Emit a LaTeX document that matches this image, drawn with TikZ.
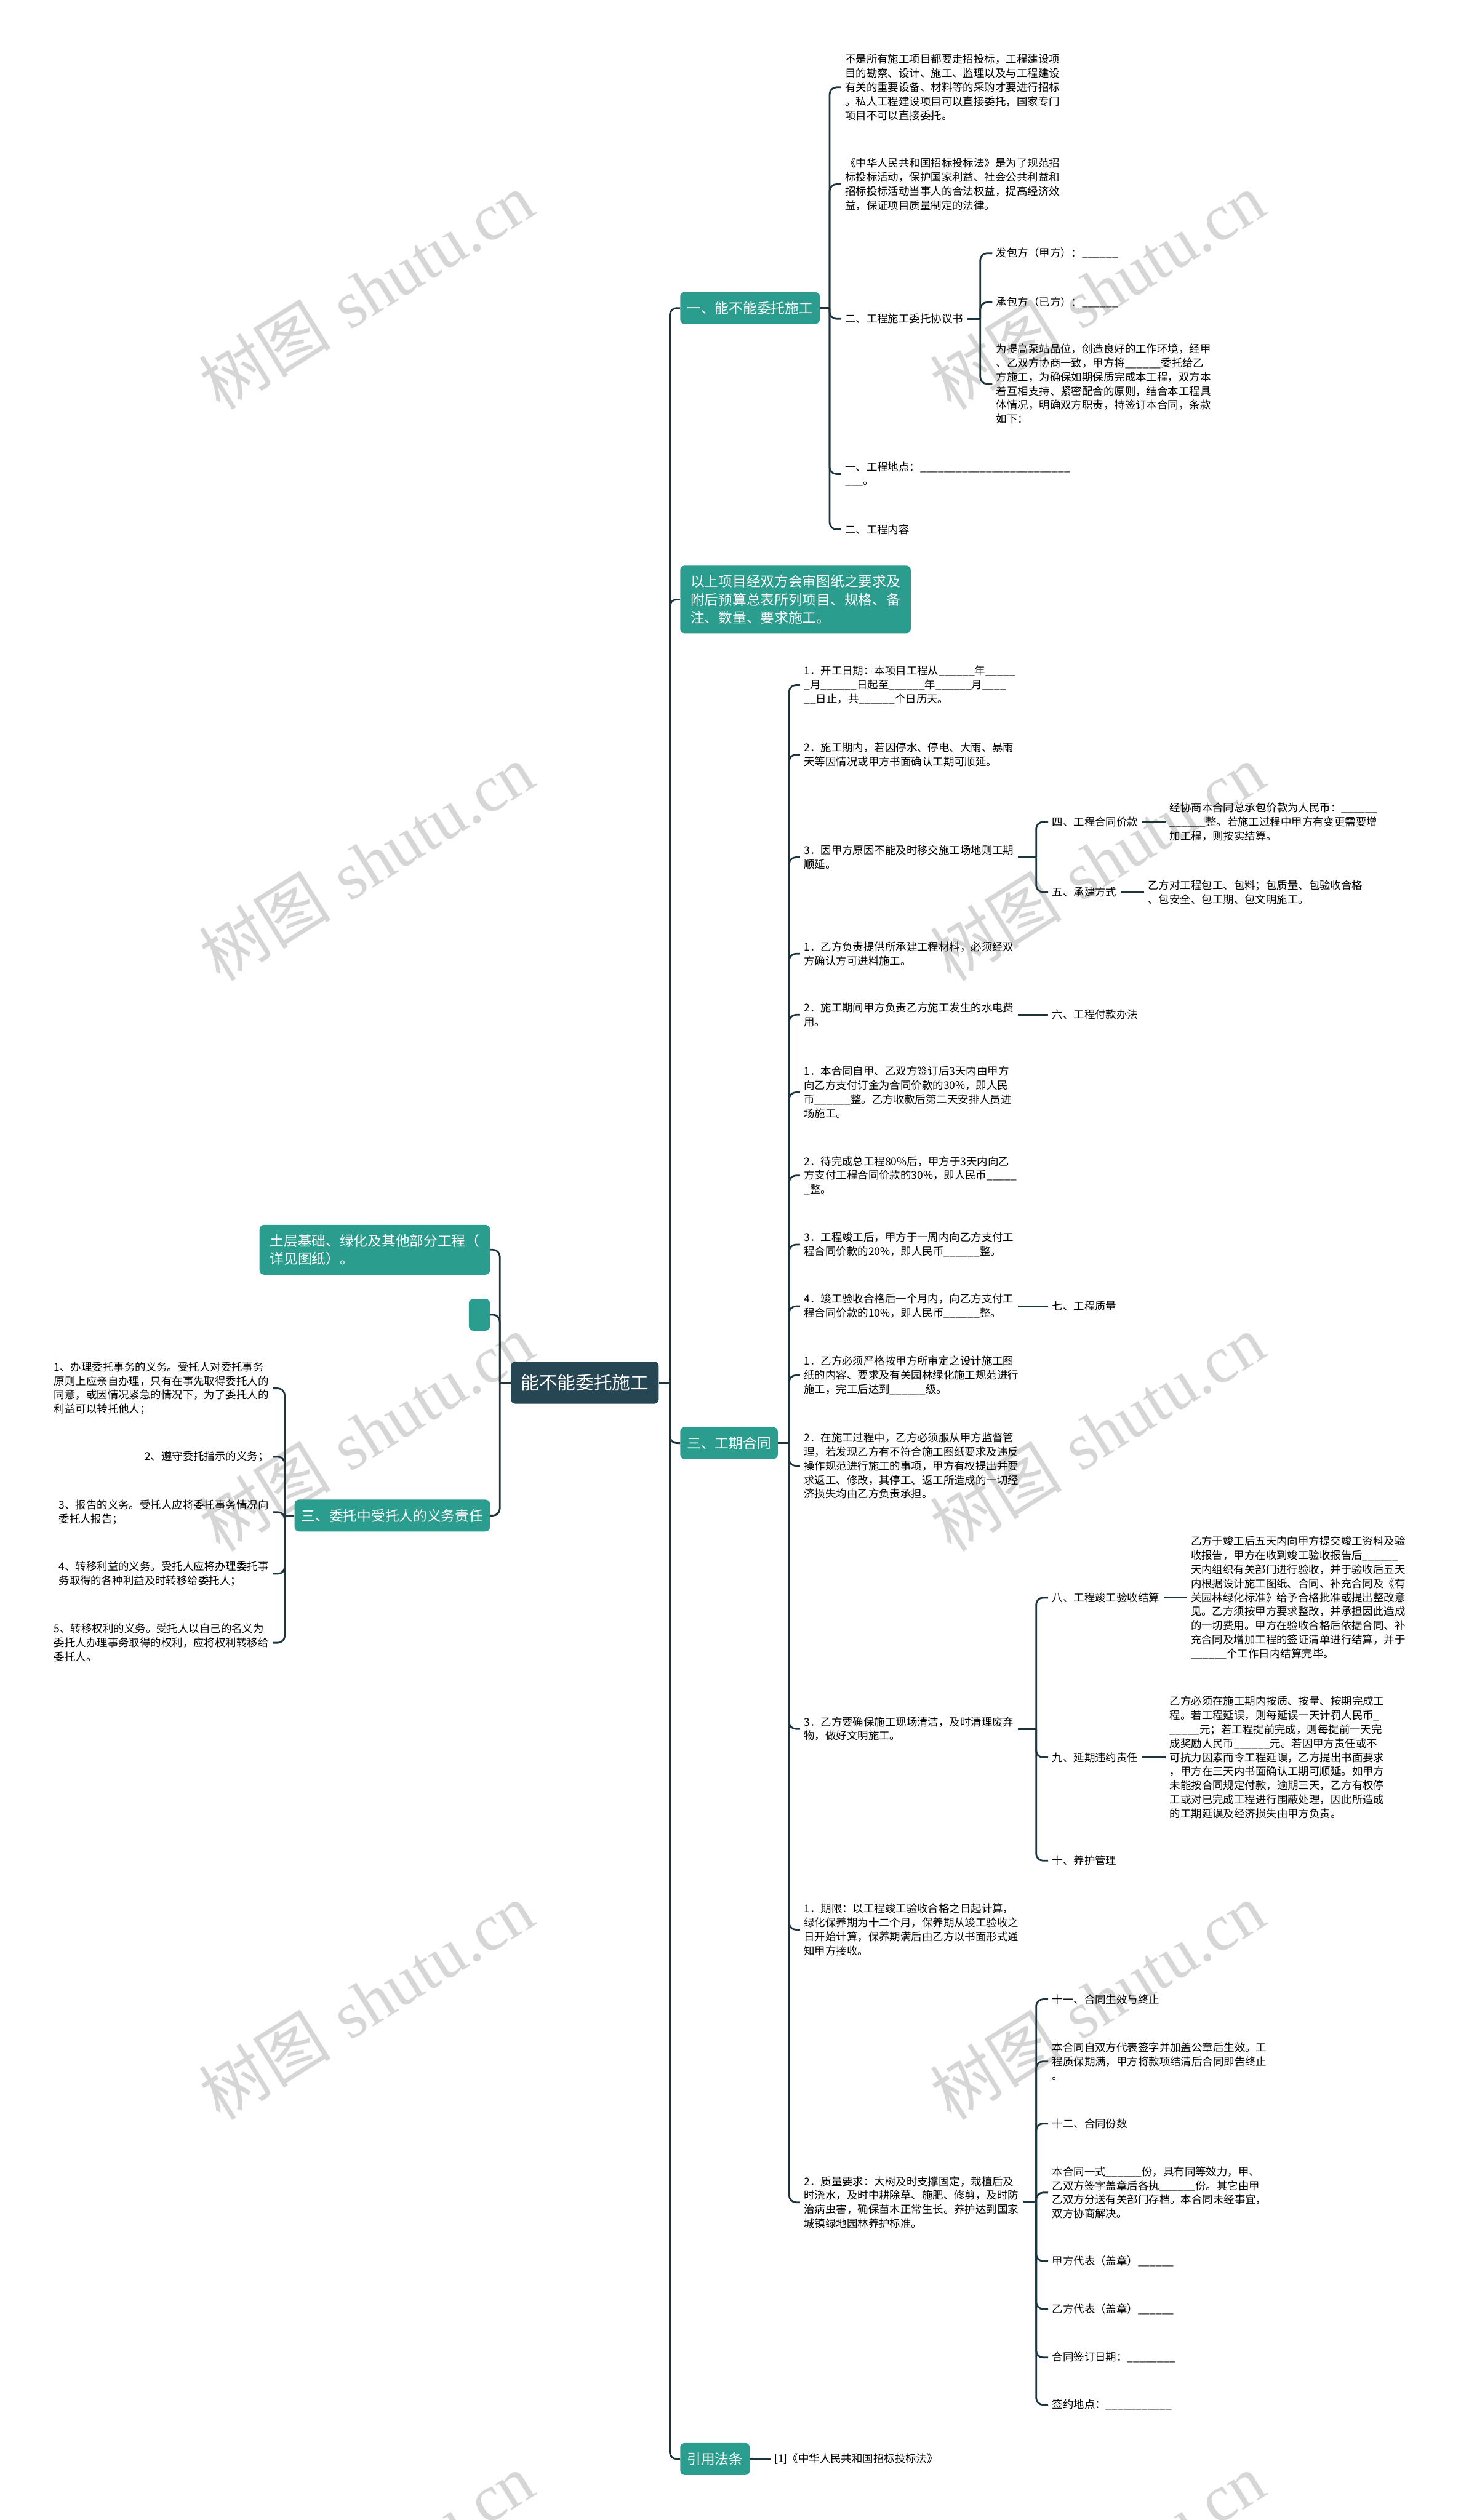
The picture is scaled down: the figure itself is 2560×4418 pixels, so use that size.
\documentclass[tikz,border=0pt]{standalone}
\usepackage{fontspec}
\newfontfamily\cjk{Noto Sans CJK SC}
\newfontfamily\wmfont{Liberation Serif}
\usetikzlibrary{calc}
\definecolor{rootc}{RGB}{38,70,83}
\definecolor{boxc}{RGB}{42,157,143}
\definecolor{linec}{RGB}{28,52,62}
\definecolor{wmc}{RGB}{214,214,214}
\ExplSyntaxOn
\newcommand{\bl}[1]{\prg_replicate:nn{#1}{\_}}
\ExplSyntaxOff
\tikzset{
  mainnode/.style={fill=rootc, text=white, rounded corners=8pt, font=\cjk\fontsize{32}{38}\selectfont,
    minimum height=74pt, minimum width=259pt, inner xsep=15pt},
  greenbox/.style={fill=boxc, text=white, rounded corners=8pt, font=\cjk\fontsize{24.5}{32}\selectfont,
    minimum height=56pt, inner xsep=12pt, inner ysep=16pt, align=left},
  txt/.style={font=\cjk\fontsize{18.8}{24.6}\selectfont, align=left, inner xsep=7pt, inner ysep=2pt, anchor=west},
  txtl/.style={txt, anchor=east},
  link/.style={draw=linec, line width=3pt, rounded corners=12pt},
  wmark/.style={text=wmc, rotate=32, font=\fontsize{116}{116}\selectfont}
}
\begin{document}
\begin{tikzpicture}[x=1pt,y=-1pt]
		%%%%% START %%%%%
		\useasboundingbox[fill=white] (0,0) rectangle (2560,4418);
		
		\foreach \wx in {642,1923}
		  \foreach \wy in {510,1512,2512,3508,4508}
		    \node[wmark] at (\wx,\wy) {{\cjk 树图} {\wmfont shutu.cn}};
		
		\node[mainnode] (root) at (1025,2424) {能不能委托施工};
		\coordinate (rR) at (1174,2424);
		\coordinate (rL) at (876,2424);
		\draw[link] (root.east) -- (rR);
		\draw[link] (root.west) -- (rL);
		
		%%%%% RIGHT %%%%%
		\node[greenbox,anchor=west] (b1) at (1192,540) {一、能不能委托施工};
		\node[greenbox,anchor=west,minimum width=404pt] (b2) at (1192,1051) {以上项目经双方会审图纸之要求及\\附后预算总表所列项目、规格、备\\注、数量、要求施工。};
		\node[greenbox,anchor=west] (b3) at (1192,2530) {三、工期合同};
		\node[greenbox,anchor=west] (b4) at (1192,4311) {引用法条};
		\foreach \n in {b1,b2,b3,b4} \draw[link] (rR) |- (\n.west);
		
		\coordinate (b1J) at (1454,540);
		\draw[link] (b1.east) -- (b1J);
		\node[txt] (e1) at (1474,153) {不是所有施工项目都要走招投标，工程建设项\\目的勘察、设计、施工、监理以及与工程建设\\有关的重要设备、材料等的采购才要进行招标\\。私人工程建设项目可以直接委托，国家专门\\项目不可以直接委托。};
		\node[txt] (e2) at (1474,323) {《中华人民共和国招标投标法》是为了规范招\\标投标活动，保护国家利益、社会公共利益和\\招标投标活动当事人的合法权益，提高经济效\\益，保证项目质量制定的法律。};
		\node[txt] (e3) at (1474,559) {二、工程施工委托协议书};
		\node[txt] (e4) at (1474,831) {一、工程地点：\bl{25}\\\bl{3}。};
		\node[txt] (e5) at (1474,928) {二、工程内容};
		\foreach \n in {e1,e2,e3,e4,e5} \draw[link] (b1J) |- (\n.west);
		
		\coordinate (e3J) at (1718,559);
		\draw[link] (e3.east) -- (e3J);
		\node[txt] (f1) at (1739,444) {发包方（甲方）：\bl{6}};
		\node[txt] (f2) at (1739,530) {承包方（已方）：\bl{6}};
		\node[txt] (f3) at (1739,673) {为提高泵站品位，创造良好的工作环境，经甲\\、乙双方协商一致，甲方将\bl{6}委托给乙\\方施工，为确保如期保质完成本工程，双方本\\着互相支持、紧密配合的原则，结合本工程具\\体情况，明确双方职责，特签订本合同，条款\\如下：};
		\foreach \n in {f1,f2,f3} \draw[link] (e3J) |- (\n.west);
		
		\coordinate (b3J) at (1383,2530);
		\draw[link] (b3.east) -- (b3J);
		\node[txt] (g1) at (1402,1201) {1．开工日期：本项目工程从\bl{6}年\bl{5}\\\bl{1}月\bl{6}日起至\bl{6}年\bl{6}月\bl{4}\\\bl{2}日止，共\bl{6}个日历天。};
		\node[txt] (g2) at (1402,1323) {2．施工期内，若因停水、停电、大雨、暴雨\\天等因情况或甲方书面确认工期可顺延。};
		\node[txt] (g3) at (1402,1503) {3．因甲方原因不能及时移交施工场地则工期\\顺延。};
		\node[txt] (g4) at (1402,1672) {1．乙方负责提供所承建工程材料，必须经双\\方确认方可进料施工。};
		\node[txt] (g5) at (1402,1779) {2．施工期间甲方负责乙方施工发生的水电费\\用。};
		\node[txt] (g6) at (1402,1915) {1．本合同自甲、乙双方签订后3天内由甲方\\向乙方支付订金为合同价款的30\%，即人民\\币\bl{6}整。乙方收款后第二天安排人员进\\场施工。};
		\node[txt] (g7) at (1402,2061) {2．待完成总工程80\%后，甲方于3天内向乙\\方支付工程合同价款的30\%，即人民币\bl{5}\\\bl{1}整。};
		\node[txt] (g8) at (1402,2182) {3．工程竣工后，甲方于一周内向乙方支付工\\程合同价款的20\%，即人民币\bl{6}整。};
		\node[txt] (g9) at (1402,2290) {4．竣工验收合格后一个月内，向乙方支付工\\程合同价款的10\%，即人民币\bl{6}整。};
		\node[txt] (g10) at (1402,2411) {1．乙方必须严格按甲方所审定之设计施工图\\纸的内容、要求及有关园林绿化施工规范进行\\施工，完工后达到\bl{6}级。};
		\node[txt] (g11) at (1402,2570) {2．在施工过程中，乙方必须服从甲方监督管\\理，若发现乙方有不符合施工图纸要求及违反\\操作规范进行施工的事项，甲方有权提出并要\\求返工、修改，其停工、返工所造成的一切经\\济损失均由乙方负责承担。};
		\node[txt] (g12) at (1402,3031) {3．乙方要确保施工现场清洁，及时清理废弃\\物，做好文明施工。};
		\node[txt] (g13) at (1402,3383) {1．期限：以工程竣工验收合格之日起计算，\\绿化保养期为十二个月，保养期从竣工验收之\\日开始计算，保养期满后由乙方以书面形式通\\知甲方接收。};
		\node[txt] (g14) at (1402,3861) {2．质量要求：大树及时支撑固定，栽植后及\\时浇水，及时中耕除草、施肥、修剪，及时防\\治病虫害，确保苗木正常生长。养护达到国家\\城镇绿地园林养护标准。};
		\foreach \n in {g1,g2,g3,g4,g5,g6,g7,g8,g9,g10,g11,g12,g13,g14} \draw[link] (b3J) |- (\n.west);
		
		\coordinate (g3J) at (1816,1503);
		\draw[link] (g3.east) -- (g3J);
		\node[txt] (h1) at (1837,1441) {四、工程合同价款};
		\node[txt] (h2) at (1837,1564) {五、承建方式};
		\foreach \n in {h1,h2} \draw[link] (g3J) |- (\n.west);
		\node[txt] (h1a) at (2043,1441) {经协商本合同总承包价款为人民币：\bl{6}\\\bl{6}整。若施工过程中甲方有变更需要增\\加工程，则按实结算。};
		\node[txt] (h2a) at (2005,1564) {乙方对工程包工、包料；包质量、包验收合格\\、包安全、包工期、包文明施工。};
		\draw[link] (h1.east) -- (h1a.west);
		\draw[link] (h2.east) -- (h2a.west);
		
		\node[txt] (h3) at (1837,1779) {六、工程付款办法};
		\draw[link] (g5.east) -- (h3.west);
		\node[txt] (h4) at (1837,2290) {七、工程质量};
		\draw[link] (g9.east) -- (h4.west);
		
		\coordinate (g12J) at (1816,3031);
		\draw[link] (g12.east) -- (g12J);
		\node[txt] (k1) at (1837,2801) {八、工程竣工验收结算};
		\node[txt] (k2) at (1837,3081) {九、延期违约责任};
		\node[txt] (k3) at (1837,3262) {十、养护管理};
		\foreach \n in {k1,k2,k3} \draw[link] (g12J) |- (\n.west);
		\node[txt] (k1a) at (2080,2801) {乙方于竣工后五天内向甲方提交竣工资料及验\\收报告，甲方在收到竣工验收报告后\bl{6}\\天内组织有关部门进行验收，并于验收后五天\\内根据设计施工图纸、合同、补充合同及《有\\关园林绿化标准》给予合格批准或提出整改意\\见。乙方须按甲方要求整改，并承担因此造成\\的一切费用。甲方在验收合格后依据合同、补\\充合同及增加工程的签证清单进行结算，并于\\\bl{6}个工作日内结算完毕。};
		\node[txt] (k2a) at (2043,3081) {乙方必须在施工期内按质、按量、按期完成工\\程。若工程延误，则每延误一天计罚人民币\bl{1}\\\bl{5}元；若工程提前完成，则每提前一天完\\成奖励人民币\bl{6}元。若因甲方责任或不\\可抗力因素而令工程延误，乙方提出书面要求\\，甲方在三天内书面确认工期可顺延。如甲方\\未能按合同规定付款，逾期三天，乙方有权停\\工或对已完成工程进行围蔽处理，因此所造成\\的工期延误及经济损失由甲方负责。};
		\draw[link] (k1.east) -- (k1a.west);
		\draw[link] (k2.east) -- (k2a.west);
		
		\coordinate (g14J) at (1816,3861);
		\draw[link] (g14.east) -- (g14J);
		\node[txt] (m1) at (1837,3505) {十一、合同生效与终止};
		\node[txt] (m2) at (1837,3614) {本合同自双方代表签字并加盖公章后生效。工\\程质保期满，甲方将款项结清后合同即告终止\\。};
		\node[txt] (m3) at (1837,3723) {十二、合同份数};
		\node[txt] (m4) at (1837,3844) {本合同一式\bl{6}份，具有同等效力，甲、\\乙双方签字盖章后各执\bl{6}份。其它由甲\\乙双方分送有关部门存档。本合同未经事宜，\\双方协商解决。};
		\node[txt] (m5) at (1837,3964) {甲方代表（盖章）\bl{6}};
		\node[txt] (m6) at (1837,4048) {乙方代表（盖章）\bl{6}};
		\node[txt] (m7) at (1837,4133) {合同签订日期：\bl{8}};
		\node[txt] (m8) at (1837,4216) {签约地点：\bl{11}};
		\foreach \n in {m1,m2,m3,m4,m5,m6,m7,m8} \draw[link] (g14J) |- (\n.west);
		
		\node[txt] (n1) at (1350,4311) {[1]《中华人民共和国招标投标法》};
		\draw[link] (b4.east) -- (n1.west);
		
		%%%%% LEFT %%%%%
		\node[greenbox,anchor=east,minimum width=404pt] (l1) at (859,2191) {土层基础、绿化及其他部分工程（\\详见图纸）。};
		\node[greenbox,anchor=east,minimum width=37pt] (l2) at (859,2305) {};
		\node[greenbox,anchor=east] (l3) at (859,2657) {三、委托中受托人的义务责任};
		\foreach \n in {l1,l2,l3} \draw[link] (rL) |- (\n.east);
		
		\coordinate (l3J) at (499,2657);
		\draw[link] (l3.west) -- (l3J);
		\node[txtl] (d1) at (478,2434) {1、办理委托事务的义务。受托人对委托事务\\原则上应亲自办理，只有在事先取得委托人的\\同意，或因情况紧急的情况下，为了委托人的\\利益可以转托他人；};
		\node[txtl] (d2) at (478,2554) {2、遵守委托指示的义务；};
		\node[txtl] (d3) at (478,2651) {3、报告的义务。受托人应将委托事务情况向\\委托人报告；};
		\node[txtl] (d4) at (478,2759) {4、转移利益的义务。受托人应将办理委托事\\务取得的各种利益及时转移给委托人；};
		\node[txtl] (d5) at (478,2880) {5、转移权利的义务。受托人以自己的名义为\\委托人办理事务取得的权利，应将权利转移给\\委托人。};
		\foreach \n in {d1,d2,d3,d4,d5} \draw[link] (l3J) |- (\n.east);
		%%%%% END %%%%%
\end{tikzpicture}
\end{document}
